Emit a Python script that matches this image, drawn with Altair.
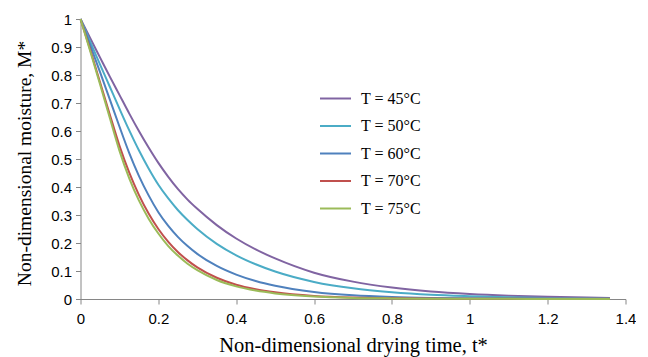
import altair as alt
import pandas as pd

t = [0, 0.025, 0.05, 0.075, 0.1, 0.125, 0.15, 0.175, 0.2, 0.225, 0.25, 0.275, 0.3,
     0.35, 0.4, 0.45, 0.5, 0.6, 0.7, 0.8, 0.9, 1.0, 1.1, 1.2, 1.3, 1.36]

m45 = [1.0, 0.931, 0.863, 0.795, 0.729, 0.663, 0.600, 0.541, 0.486, 0.437, 0.393, 0.355,
       0.322, 0.264, 0.216, 0.177, 0.145, 0.094, 0.062, 0.041, 0.027, 0.018, 0.012,
       0.008, 0.005, 0.004]
m50 = [1.0, 0.918, 0.838, 0.759, 0.680, 0.603, 0.531, 0.466, 0.408, 0.360, 0.318, 0.282,
       0.250, 0.197, 0.156, 0.124, 0.098, 0.061, 0.038, 0.024, 0.015, 0.010, 0.0065,
       0.004, 0.0025, 0.002]
m60 = [1.0, 0.906, 0.811, 0.714, 0.616, 0.522, 0.440, 0.370, 0.310, 0.262, 0.222, 0.189,
       0.161, 0.118, 0.087, 0.064, 0.047, 0.025, 0.013, 0.007, 0.004, 0.0025, 0.0015,
       0.001, 0.001, 0.001]
m70 = [1.0, 0.890, 0.775, 0.660, 0.548, 0.452, 0.372, 0.305, 0.250, 0.205, 0.168, 0.138,
       0.113, 0.076, 0.051, 0.035, 0.024, 0.011, 0.005, 0.0025, 0.0015, 0.001, 0.0007,
       0.0005, 0.0005, 0.0005]
m75 = [1.0, 0.885, 0.768, 0.648, 0.530, 0.432, 0.352, 0.287, 0.234, 0.190, 0.155, 0.126,
       0.103, 0.068, 0.045, 0.030, 0.020, 0.009, 0.004, 0.002, 0.001, 0.0007, 0.0005,
       0.0003, 0.0003, 0.0003]

series = ["T = 45°C", "T = 50°C", "T = 60°C", "T = 70°C", "T = 75°C"]
colors = ["#8064A2", "#4BACC6", "#4F81BD", "#C0504D", "#9BBB59"]
x_ticks = [0, 0.2, 0.4, 0.6, 0.8, 1.0, 1.2, 1.4]
y_ticks = [0, 0.1, 0.2, 0.3, 0.4, 0.5, 0.6, 0.7, 0.8, 0.9, 1.0]

rows = []
for name, vals in zip(series, [m45, m50, m60, m70, m75]):
    for ti, mi in zip(t, vals):
        rows.append({"t": ti, "M": mi, "series": name})
df = pd.DataFrame(rows)

axis_common = dict(
    domainColor="#868686", tickColor="#868686", grid=False,
    labelFont="Liberation Sans", labelFontSize=15, labelColor="#000000",
    titleFont="Liberation Serif", titleFontWeight="normal",
    titleColor="#000000", tickSize=5, format="~g", labelFlush=False,
)

chart = alt.Chart(df).mark_line(strokeWidth=2, interpolate="monotone").encode(
    x=alt.X("t:Q", scale=alt.Scale(domain=[0, 1.4], nice=False),
            axis=alt.Axis(values=x_ticks, title="Non-dimensional drying time, t*",
                          labelPadding=7, titlePadding=9, titleFontSize=20.5,
                          **axis_common)),
    y=alt.Y("M:Q", scale=alt.Scale(domain=[0, 1], nice=False),
            axis=alt.Axis(values=y_ticks, title="Non-dimensional moisture, M*",
                          labelPadding=4, titlePadding=16, titleFontSize=19.5,
                          titleY=144, **axis_common)),
    color=alt.Color("series:N", scale=alt.Scale(domain=series, range=colors),
                    legend=alt.Legend(title=None, orient="none", legendX=238.5, legendY=63,
                                      symbolType="stroke", symbolSize=961,
                                      symbolStrokeWidth=2, labelFont="Liberation Serif",
                                      labelFontSize=16, labelColor="#000000",
                                      rowPadding=2.5, labelOffset=9)),
).properties(
    width=545, height=280,
    autosize=alt.AutoSizeParams(type="none"),
    padding={"left": 72.5, "top": 11, "right": 10, "bottom": 60},
).configure_view(stroke=None)

chart.save("out.html", embed_options={"renderer": "svg", "actions": False})
